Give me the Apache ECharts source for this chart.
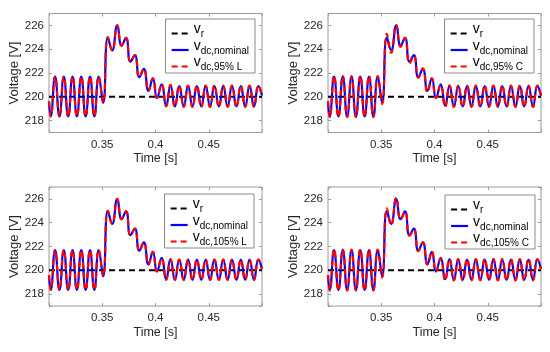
<!DOCTYPE html>
<html><head><meta charset="utf-8">
<script src="https://cdn.jsdelivr.net/npm/echarts@6/dist/echarts.min.js"></script>
<style>html,body{margin:0;padding:0;background:#fff}#c{width:550px;height:352px}</style>
</head><body><div id="c"></div>
<script>
// ---- data (extrema of the ripple, shared time stamps) ----
const tExt = [0.3000,0.3016,0.3057,0.3098,0.3139,0.3180,0.3221,0.3262,0.3303,0.3344,0.3385,0.3426,0.3467,
  0.3508,0.3553,0.3593,0.3641,0.3682,0.3723,0.3765,0.3806,0.3848,0.3890,0.3934,0.3975,0.4014,
  0.4058,0.4100,0.4141,0.4182,0.4223,0.4265,0.4306,0.4347,0.4388,0.4430,0.4471,0.4512,0.4553,
  0.4595,0.4636,0.4677,0.4718,0.4760,0.4801,0.4842,0.4883,0.4925,0.4966,0.5000];
const vNominal = [219.6,218.35,221.7,218.35,221.7,218.35,221.7,218.35,221.7,218.35,221.7,218.35,221.7,
  219.5,225.0,223.9,226.0,224.3,224.95,222.95,223.5,221.65,222.35,220.5,221.55,219.9,
  221.05,219.25,220.95,219.2,220.9,219.2,220.9,219.2,220.9,219.2,220.9,219.2,220.9,
  219.2,220.9,219.2,220.9,219.2,220.9,219.2,220.9,219.2,220.9,220.1];
const v95L = [219.6,218.35,221.7,218.35,221.7,218.35,221.7,218.35,221.7,218.35,221.7,218.35,221.7,
  219.5,225.0,223.9,226.0,224.3,224.95,222.95,223.5,221.65,222.35,220.5,221.55,219.9,
  221.05,219.2,221.0,219.15,220.95,219.15,220.95,219.15,220.95,219.15,220.95,219.15,220.95,
  219.15,220.95,219.15,220.95,219.15,220.95,219.15,220.95,219.15,220.95,220.1];
const v95C = [219.6,218.3,221.75,218.3,221.75,218.3,221.75,218.3,221.75,218.3,221.75,218.3,221.75,
  219.4,225.3,223.7,226.05,224.2,224.95,222.8,223.45,221.6,222.4,220.4,221.55,219.9,
  221.0,219.15,220.95,219.15,220.95,219.15,220.95,219.15,220.95,219.15,220.95,219.15,220.95,
  219.15,220.95,219.15,220.95,219.15,220.95,219.15,220.95,219.15,220.95,220.1];
const v105L = [219.6,218.35,221.7,218.35,221.7,218.35,221.7,218.35,221.7,218.35,221.7,218.35,221.7,
  219.5,225.0,223.9,226.0,224.3,224.95,222.95,223.5,221.65,222.35,220.5,221.55,219.9,
  221.0,219.2,220.9,219.2,220.9,219.2,220.9,219.2,220.9,219.2,220.9,219.2,220.9,
  219.2,220.9,219.2,220.9,219.2,220.9,219.2,220.9,219.2,220.9,220.1];
const v105C = [219.6,218.3,221.75,218.3,221.75,218.3,221.75,218.3,221.75,218.3,221.75,218.3,221.75,
  219.4,225.2,223.8,226.1,224.3,224.9,222.9,223.4,221.6,222.35,220.5,221.6,219.9,
  221.0,219.15,220.95,219.15,220.95,219.15,220.95,219.15,220.95,219.15,220.95,219.15,220.95,
  219.15,220.95,219.15,220.95,219.15,220.95,219.15,220.95,219.15,220.95,220.1];
const refT = [0.3, 0.5];
const refV = [220, 220];
const xTickLabels = ['0.35', '0.4', '0.45'];
const yTickLabels = ['218', '220', '222', '224', '226'];
const refName = 'vr';
const nomName = 'vdc,nominal';
const variantNames = ['vdc,95% L', 'vdc,95% C', 'vdc,105% L', 'vdc,105% C'];
const variantValues = [v95L, v95C, v105L, v105C];

// ---- layout ----
const FONT = 'Liberation Sans, Arial, Helvetica, sans-serif';
const TXT = '#262626';
const FRAME = '#9a9a9a';
const grids = [
  {left: 49, top: 13.5, width: 213, height: 119},
  {left: 328, top: 13.5, width: 213, height: 119},
  {left: 49, top: 187, width: 213, height: 119},
  {left: 328, top: 187, width: 213, height: 119}
];
const legendPos = [
  {right: 295, top: 19}, {right: 16, top: 19}, {right: 296, top: 194}, {right: 15, top: 195}
];

function pairs(ts, vs) { return ts.map((t, i) => [t, vs[i]]); }

const option = {animation: false, backgroundColor: '#fff',
  grid: [], xAxis: [], yAxis: [], series: [], legend: []};

grids.forEach((g, i) => {
  option.grid.push(Object.assign({show: true, borderColor: FRAME, borderWidth: 1, backgroundColor: 'transparent'}, g));
  const tick = {show: true, inside: true, length: 3, lineStyle: {color: FRAME, width: 1}};
  option.xAxis.push({
    gridIndex: i, type: 'value', min: 0.3, max: 0.5, interval: 0.05,
    axisLine: {show: false}, axisTick: tick, splitLine: {show: false},
    axisLabel: {margin: 6, fontSize: 11.5, color: TXT, fontFamily: FONT,
      formatter: v => { const s = String(+v.toFixed(2)); return xTickLabels.includes(s) ? s : ''; }},
    name: 'Time [s]', nameLocation: 'middle', nameGap: 20,
    nameTextStyle: {fontSize: 12.5, color: TXT, fontFamily: FONT}
  });
  option.xAxis.push({
    gridIndex: i, type: 'value', min: 0.3, max: 0.5, interval: 0.05, position: 'top',
    axisLine: {show: false}, axisTick: tick, splitLine: {show: false}, axisLabel: {show: false}
  });
  option.yAxis.push({
    gridIndex: i, type: 'value', min: 217, max: 227, splitNumber: 5,
    axisLine: {show: false}, axisTick: tick, splitLine: {show: false},
    axisLabel: {margin: 5, fontSize: 11.5, color: TXT, fontFamily: FONT,
      formatter: v => { const s = String(Math.round(v)); return (Math.abs(v - Math.round(v)) < 1e-6 && yTickLabels.includes(s)) ? s : ''; }},
    name: 'Voltage [V]', nameLocation: 'middle', nameGap: 27,
    nameTextStyle: {fontSize: 13, color: TXT, fontFamily: FONT}
  });
  option.yAxis.push({
    gridIndex: i, type: 'value', min: 217, max: 227, splitNumber: 5, position: 'right',
    axisLine: {show: false}, axisTick: tick, splitLine: {show: false}, axisLabel: {show: false}
  });
  const xa = i * 2, ya = i * 2;
  option.series.push({
    type: 'line', name: refName, xAxisIndex: xa, yAxisIndex: ya, data: pairs(refT, refV),
    symbol: 'none', lineStyle: {color: '#000', width: 2, type: [6, 4]}, itemStyle: {color: '#000'}
  });
  option.series.push({
    type: 'line', name: nomName, xAxisIndex: xa, yAxisIndex: ya, data: pairs(tExt, vNominal),
    symbol: 'none', smooth: 0.5, lineStyle: {color: '#0000ff', width: 2.2, type: 'solid'}, itemStyle: {color: '#0000ff'}
  });
  option.series.push({
    type: 'line', name: variantNames[i], xAxisIndex: xa, yAxisIndex: ya, data: pairs(tExt, variantValues[i]),
    symbol: 'none', smooth: 0.5, lineStyle: {color: '#ff0000', width: 2.2, type: [6, 4]}, itemStyle: {color: '#ff0000'}
  });
  option.legend.push(Object.assign({
    orient: 'vertical', data: [refName, nomName, variantNames[i]],
    backgroundColor: '#fff', borderColor: '#8a8a8a', borderWidth: 1, borderRadius: 0,
    padding: [3.5, 6, 0.5, 5], itemGap: -0.5, itemWidth: 17, itemHeight: 12, selectedMode: false,
    itemStyle: {opacity: 0},
    lineStyle: {width: 2.2, opacity: 1},
    formatter: n => '{v|v}{s|' + n.slice(1) + '}',
    textStyle: {color: '#000', fontFamily: FONT, rich: {
      v: {fontSize: 14, fontFamily: FONT, color: '#000', padding: [0, 0, 8, 0], verticalAlign: 'middle'},
      s: {fontSize: 10, fontFamily: FONT, color: '#000', padding: [2, 0, 0, 0], verticalAlign: 'middle'}
    }}
  }, legendPos[i]));
});

const chart = echarts.init(document.getElementById('c'), null, {renderer: 'canvas'});
chart.setOption(option);
</script>
</body></html>
